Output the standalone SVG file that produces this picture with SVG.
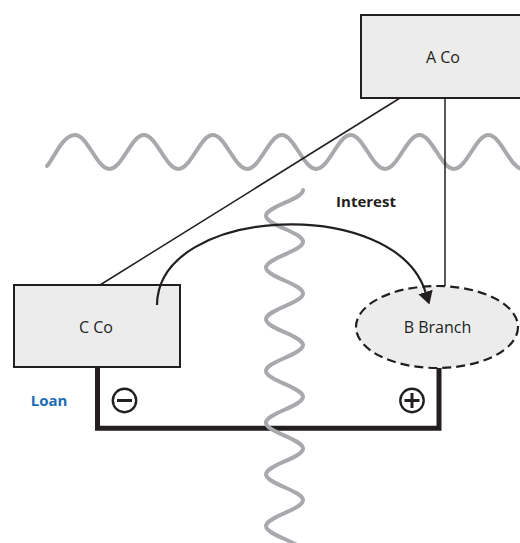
<svg xmlns="http://www.w3.org/2000/svg" width="520" height="543" viewBox="0 0 520 543">
<style>
.wave{fill:none;stroke:#a7a9ac;stroke-width:4;stroke-linecap:round;stroke-linejoin:round}
.box{fill:#ececec;stroke:#231f20;stroke-width:2}
.branch{fill:#ececec;stroke:#231f20;stroke-width:2.2;stroke-dasharray:9 5}
.lbl{font-family:"Open Sans","Liberation Sans",sans-serif;font-size:16px;fill:#231f20;text-anchor:middle}
.blbl{font-family:"Open Sans","Liberation Sans",sans-serif;font-size:15px;font-weight:bold;text-anchor:middle}
.thin{fill:none;stroke:#231f20;stroke-width:1.5}
.arrow{fill:none;stroke:#231f20;stroke-width:2.2}
.thick{fill:none;stroke:#231f20;stroke-width:5}
.sign{fill:none;stroke:#231f20;stroke-width:2.4}
.bar{fill:none;stroke:#231f20;stroke-width:3}
</style>
<defs>
<marker id="ah" viewBox="0 0 13 15" refX="0" refY="7.5" markerWidth="13" markerHeight="15" markerUnits="userSpaceOnUse" orient="auto">
<path d="M0,0 L13,7.5 L0,15 z" fill="#231f20"/>
</marker>
</defs>
<g id="waves">
<path class="wave" d="M47,166 C54,158 62.48,135 75,135 S96.93,169 109.45,169 S131.38,135 143.9,135 S165.83,169 178.35,169 S200.28,135 212.8,135 S234.73,169 247.25,169 S269.18,135 281.7,135 S303.63,169 316.15,169 S338.08,135 350.6,135 S372.53,169 385.05,169 S406.98,135 419.5,135 S441.43,169 453.95,169 S475.88,135 488.4,135 S510.33,169 522.85,169 S544.8,135 557.3,135"/>
</g>
<g id="connectors">
<line class="thin" x1="400" y1="98" x2="100" y2="285"/>
<line class="thin" x1="445" y1="98" x2="445" y2="286"/>
<polyline class="thick" points="97.5,367 97.5,428.3 439,428.3 439,368"/>
</g>
<g id="vwave">
<path class="wave" d="M303,190 C303,199.39 266,206.46 266,215.85 S303,232.31 303,241.7 S266,258.16 266,267.55 S303,284.01 303,293.4 S266,309.86 266,319.25 S303,335.71 303,345.1 S266,361.56 266,370.95 S303,387.41 303,396.8 S266,413.26 266,422.65 S303,439.11 303,448.5 S266,464.96 266,474.35 S303,490.81 303,500.2 S266,516.66 266,526.05 S303,542.51 303,551.9"/>
</g>
<g id="a-co">
<rect class="box" x="361" y="15" width="170" height="83"/>
<text class="lbl" x="443" y="62.5">A Co</text>
</g>
<g id="c-co">
<rect class="box" x="14" y="285" width="166" height="82"/>
<text class="lbl" x="96" y="333">C Co</text>
</g>
<g id="b-branch">
<ellipse class="branch" cx="437" cy="327" rx="81" ry="41"/>
<text class="lbl" x="437.5" y="333">B Branch</text>
</g>
<g id="interest-arrow">
<path class="arrow" d="M157,305 C158,205 395,195 425.5,292" marker-end="url(#ah)"/>
</g>
<g id="interest-label">
<text class="blbl" x="366" y="206.5" fill="#231f20">Interest</text>
</g>
<g id="loan-label">
<text class="blbl" x="49" y="406" fill="#1d6db5">Loan</text>
</g>
<g id="minus">
<circle class="sign" cx="124.5" cy="400.5" r="11.7"/>
<line class="bar" x1="117" y1="400.5" x2="132" y2="400.5"/>
</g>
<g id="plus">
<circle class="sign" cx="412" cy="400.5" r="11.7"/>
<line class="bar" x1="404.5" y1="400.5" x2="419.5" y2="400.5"/>
<line class="bar" x1="412" y1="393" x2="412" y2="408"/>
</g>
</svg>
